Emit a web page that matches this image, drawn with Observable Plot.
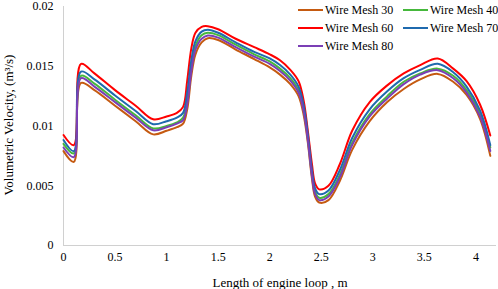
<!DOCTYPE html>
<html><head><meta charset="utf-8">
<script src="https://cdn.jsdelivr.net/npm/d3@7"></script>
<script src="https://cdn.jsdelivr.net/npm/@observablehq/plot@0.6"></script>
<style>
html,body{margin:0;padding:0;background:#fff;}
#wrap{position:relative;width:498px;height:289px;font-family:'Liberation Serif','Times New Roman',Times,'DejaVu Serif',serif;color:#000;}
#wrap svg{display:block;}
#wrap svg text{font-family:'Liberation Serif','Times New Roman',Times,'DejaVu Serif',serif;}
.ttl{position:absolute;font-size:13px;white-space:nowrap;line-height:1;}
.leg{position:absolute;font-size:12px;white-space:nowrap;line-height:1;display:flex;align-items:center;}
.leg span.sw{display:inline-block;width:25px;height:2px;margin-right:2px;}
</style></head><body><div id="wrap"></div>
<script>
const lengths = [0, 0.1, 0.17, 0.3, 0.5, 0.7, 0.87, 1.0, 1.1, 1.16, 1.2, 1.24, 1.28, 1.34, 1.4, 1.5, 1.67, 1.85, 2.0, 2.1, 2.2, 2.28, 2.33, 2.37, 2.41, 2.44, 2.48, 2.57, 2.68, 2.8, 2.97, 3.14, 3.3, 3.46, 3.63, 3.78, 3.91, 4.04, 4.14];
const mesh30 = [0.0079, 0.0070, 0.0136, 0.0130, 0.0117, 0.0104, 0.0093, 0.0096, 0.0099, 0.0102, 0.0114, 0.0142, 0.0160, 0.0170, 0.01735, 0.0172, 0.0164, 0.0156, 0.0149, 0.0143, 0.0135, 0.0125, 0.0109, 0.0086, 0.0056, 0.0041, 0.0036, 0.0038, 0.0054, 0.0080, 0.0104, 0.0120, 0.0131, 0.0139, 0.01436, 0.0137, 0.0126, 0.0106, 0.0075];
const mesh40 = [0.0085, 0.0077, 0.0142, 0.01355, 0.0122, 0.0109, 0.0098, 0.0100, 0.0103, 0.0107, 0.0122, 0.0150, 0.0167, 0.0176, 0.0178, 0.0176, 0.0168, 0.0160, 0.0154, 0.0148, 0.0140, 0.0130, 0.0114, 0.0090, 0.0060, 0.0045, 0.0040, 0.0043, 0.0059, 0.0086, 0.0110, 0.0125, 0.0137, 0.0144, 0.0148, 0.0142, 0.0130, 0.0110, 0.0082];
const mesh60 = [0.00925, 0.0084, 0.0152, 0.0144, 0.0130, 0.0117, 0.01056, 0.0108, 0.0111, 0.0116, 0.0138, 0.0165, 0.0178, 0.0183, 0.01835, 0.0181, 0.0173, 0.0166, 0.0160, 0.0155, 0.0147, 0.01375, 0.0121, 0.0096, 0.0068, 0.0052, 0.0047, 0.0050, 0.0068, 0.0096, 0.0120, 0.0134, 0.0144, 0.0151, 0.01565, 0.0148, 0.01375, 0.0118, 0.0092];
const mesh70 = [0.00883, 0.0079, 0.01455, 0.0139, 0.01255, 0.01125, 0.01015, 0.0104, 0.0107, 0.0111, 0.0128, 0.0155, 0.0171, 0.0179, 0.01805, 0.0178, 0.0170, 0.0162, 0.01565, 0.0151, 0.0143, 0.0133, 0.0117, 0.0093, 0.0063, 0.0048, 0.0043, 0.0046, 0.0063, 0.0090, 0.0114, 0.0129, 0.0140, 0.0147, 0.0152, 0.0145, 0.0133, 0.0113, 0.0084];
const mesh80 = [0.0082, 0.0074, 0.0140, 0.0133, 0.0120, 0.0107, 0.00964, 0.0099, 0.0102, 0.0105, 0.0118, 0.0146, 0.0164, 0.0173, 0.01757, 0.0174, 0.0166, 0.0158, 0.0152, 0.0146, 0.0138, 0.0128, 0.0112, 0.0088, 0.0058, 0.0043, 0.0038, 0.0041, 0.0057, 0.0084, 0.0108, 0.0123, 0.0135, 0.0143, 0.01467, 0.0140, 0.0128, 0.0108, 0.0079];
const seriesNames = ["Wire Mesh 30", "Wire Mesh 40", "Wire Mesh 60", "Wire Mesh 70", "Wire Mesh 80"];
const seriesColors = ["#C55A11", "#46B83C", "#FF0000", "#1F6AAE", "#7B3FB5"];
const xTicks = [0, 0.5, 1, 1.5, 2, 2.5, 3, 3.5, 4];
const yTicks = [0, 0.005, 0.01, 0.015, 0.02];
const xTitle = "Length of engine loop , m";
const yTitle = "Volumetric Velocity, (m³/s)";

const allSeries = [mesh30, mesh40, mesh60, mesh70, mesh80];
const rows = [];
allSeries.forEach((vals, i) => vals.forEach((v, j) => rows.push({x: lengths[j], y: v, s: seriesNames[i]})));

const FONT = "'Liberation Serif','Times New Roman',Times,'DejaVu Serif',serif";
const chart = Plot.plot({
  width: 498, height: 289,
  marginLeft: 63, marginRight: 2, marginTop: 6, marginBottom: 44,
  style: {fontFamily: FONT, fontSize: "12px", color: "#000", background: "#fff", overflow: "visible"},
  x: {domain: [0, 4.2], label: null},
  y: {domain: [0, 0.02], label: null},
  color: {domain: seriesNames, range: seriesColors},
  marks: [
    Plot.ruleY([0], {stroke: "#d0d0d0", strokeWidth: 1}),
    Plot.ruleX([0], {stroke: "#d0d0d0", strokeWidth: 1}),
    Plot.axisX({ticks: xTicks, tickSize: 0, tickPadding: 7, label: null, tickFormat: d => String(d), fontSize: 12}),
    Plot.axisY({ticks: yTicks, tickSize: 0, tickPadding: 10, label: null, tickFormat: d => String(d), fontSize: 12}),
    Plot.line(rows, {x: "x", y: "y", z: "s", stroke: "s", strokeWidth: 2, curve: "catmull-rom"})
  ]
});
const wrap = document.getElementById("wrap");
wrap.appendChild(chart);

const xt = document.createElement("div");
xt.className = "ttl"; xt.textContent = xTitle;
xt.style.left = "280px"; xt.style.top = "276px"; xt.style.transform = "translateX(-50%)";
wrap.appendChild(xt);
const yt = document.createElement("div");
yt.className = "ttl"; yt.textContent = yTitle;
yt.style.left = "8px"; yt.style.top = "125px"; yt.style.transform = "translate(-50%,-50%) rotate(-90deg)";
wrap.appendChild(yt);

const legPos = [[298, 4], [403, 4], [298, 22], [403, 22], [298, 40]];
seriesNames.forEach((n, i) => {
  const d = document.createElement("div");
  d.className = "leg";
  d.style.left = legPos[i][0] + "px"; d.style.top = legPos[i][1] + "px";
  const sw = document.createElement("span"); sw.className = "sw"; sw.style.background = seriesColors[i];
  d.appendChild(sw);
  d.appendChild(document.createTextNode(n));
  wrap.appendChild(d);
});
</script></body></html>
